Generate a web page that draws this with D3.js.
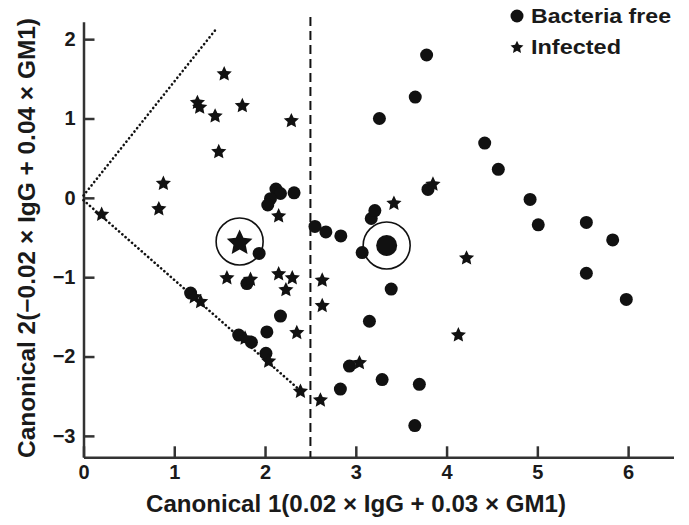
<!DOCTYPE html>
<html>
<head>
<meta charset="utf-8">
<script src="https://cdn.jsdelivr.net/npm/d3@7"></script>
<style>
  body { margin: 0; background: #fff; }
  svg text { font-family: "Liberation Sans", Arial, Helvetica, sans-serif; font-weight: bold; fill: #1a1a1a; }
</style>
</head>
<body>
<svg id="chart" width="689" height="525"></svg>
<script>
// Canonical discriminant scores
const bacteriaFree = [
  [2.12, 0.11], [2.17, 0.055], [2.32, 0.063], [2.06, -0.01], [2.03, -0.09],
  [1.935, -0.70], [1.80, -1.08], [1.18, -1.20],
  [1.71, -1.73], [1.85, -1.82], [2.02, -1.69], [2.17, -1.49], [2.01, -1.96],
  [2.55, -0.36], [2.67, -0.43], [2.835, -0.48], [3.07, -0.69], [3.17, -0.26], [3.21, -0.16],
  [3.39, -1.15], [3.795, 0.106],
  [3.15, -1.555], [2.93, -2.12], [3.29, -2.29], [3.70, -2.35], [2.83, -2.41], [3.65, -2.87],
  [3.78, 1.80], [3.655, 1.27], [3.26, 1.00], [4.42, 0.69], [4.57, 0.36],
  [4.92, -0.02], [5.01, -0.34], [5.54, -0.31], [5.83, -0.53], [5.54, -0.95], [5.98, -1.28]
];
const infected = [
  [1.55, 1.57], [1.255, 1.21], [1.28, 1.15], [1.45, 1.04], [1.75, 1.17], [2.29, 0.98],
  [1.49, 0.59], [0.88, 0.19], [0.83, -0.13], [0.20, -0.20], [2.15, -0.22],
  [1.58, -1.00], [1.84, -1.02], [2.15, -0.95], [2.30, -1.00], [2.23, -1.15],
  [2.63, -1.03], [2.63, -1.35],
  [1.22, -1.24], [1.29, -1.30], [1.78, -1.76], [2.35, -1.69], [2.04, -2.05],
  [2.39, -2.43], [2.61, -2.54],
  [3.42, -0.06], [3.85, 0.18], [4.22, -0.75], [4.13, -1.72], [3.04, -2.07]
];
// group centroids (big markers inside circles)
const centroidInfected = [1.72, -0.55];
const centroidFree = [3.34, -0.60];

// guide lines
const dottedUpper = [[0, 0.03], [1.47, 2.14]];
const dottedLower = [[0, -0.03], [2.39, -2.43]];
const cutoffX = 2.5;
const cutoffTop = 2.28;

const xTicks = [0, 1, 2, 3, 4, 5, 6];
const yTicks = [-3, -2, -1, 0, 1, 2];
const legendLabels = ['Bacteria free', 'Infected'];

const svg = d3.select('#chart');
const x = d3.scaleLinear().domain([0, 6.5]).range([83.5, 673.5]);
const y = d3.scaleLinear().domain([-3.27, 2.22]).range([457.3, 21.7]);
const ink = '#111';

// fatter five-point star than d3.symbolStar; "size" is the outer radius here
const fatStar = {
  draw(ctx, r) {
    const ri = r * 0.48;
    for (let i = 0; i < 10; i++) {
      const a = -Math.PI / 2 + i * Math.PI / 5;
      const rr = i % 2 ? ri : r;
      const px = rr * Math.cos(a), py = rr * Math.sin(a);
      if (i === 0) ctx.moveTo(px, py); else ctx.lineTo(px, py);
    }
    ctx.closePath();
  }
};
const starPath = r => d3.symbol().type(fatStar).size(r)();

// axes, ticks pointing inward
const xAxis = svg.append('g')
  .attr('transform', `translate(0,${y(-3.27)})`)
  .call(d3.axisBottom(x).tickValues(xTicks).tickFormat(d3.format('d'))
    .tickSizeInner(-11).tickSizeOuter(0).tickPadding(8));
const yAxis = svg.append('g')
  .attr('transform', `translate(${x(0)},0)`)
  .call(d3.axisLeft(y).tickValues(yTicks).tickFormat(d3.format('d'))
    .tickSizeInner(-11).tickSizeOuter(0).tickPadding(8));
[xAxis, yAxis].forEach(g => {
  g.select('.domain').attr('stroke', '#333').attr('stroke-width', 2.5);
  g.selectAll('.tick line').attr('stroke', '#333').attr('stroke-width', 2.5);
  g.selectAll('.tick text').attr('font-size', 20).attr('fill', '#1a1a1a')
    .attr('font-family', '"Liberation Sans", Arial, sans-serif').attr('font-weight', 'bold');
});

// dotted wedge lines
const line = d3.line().x(d => x(d[0])).y(d => y(d[1]));
[dottedUpper, dottedLower].forEach(seg => {
  svg.append('path')
    .attr('d', line(seg))
    .attr('fill', 'none')
    .attr('stroke', ink)
    .attr('stroke-width', 2.6)
    .attr('stroke-linecap', 'round')
    .attr('stroke-dasharray', '0.1,4.2');
});

// dashed cutoff
svg.append('line')
  .attr('x1', x(cutoffX)).attr('x2', x(cutoffX))
  .attr('y1', y(cutoffTop)).attr('y2', y(-3.27))
  .attr('stroke', ink)
  .attr('stroke-width', 2)
  .attr('stroke-dasharray', '9,5');

// points
svg.append('g').selectAll('circle')
  .data(bacteriaFree)
  .join('circle')
  .attr('cx', d => x(d[0]))
  .attr('cy', d => y(d[1]))
  .attr('r', 6.5)
  .attr('fill', ink);
svg.append('g').selectAll('path')
  .data(infected)
  .join('path')
  .attr('transform', d => `translate(${x(d[0])},${y(d[1]) + 0.8})`)
  .attr('d', starPath(8))
  .attr('fill', ink);

// centroids
[centroidInfected, centroidFree].forEach(c => {
  svg.append('circle')
    .attr('cx', x(c[0])).attr('cy', y(c[1]))
    .attr('r', 23.5)
    .attr('fill', 'none')
    .attr('stroke', ink)
    .attr('stroke-width', 1.6);
});
svg.append('path')
  .attr('transform', `translate(${x(centroidInfected[0])},${y(centroidInfected[1]) + 1.5})`)
  .attr('d', starPath(13.5))
  .attr('fill', ink);
svg.append('circle')
  .attr('cx', x(centroidFree[0])).attr('cy', y(centroidFree[1]))
  .attr('r', 10.5)
  .attr('fill', ink);

// legend
const legend = svg.append('g').attr('transform', 'translate(517,16)');
legend.append('circle').attr('cx', 0).attr('cy', 0).attr('r', 6.5).attr('fill', ink);
legend.append('path')
  .attr('transform', 'translate(0,31.5)')
  .attr('d', starPath(6.8))
  .attr('fill', ink);
legend.selectAll('text')
  .data(legendLabels)
  .join('text')
  .attr('x', 14)
  .attr('y', (d, i) => 6.5 + i * 31)
  .attr('font-size', 21)
  .attr('textLength', (d, i) => i === 0 ? 140 : 90)
  .attr('lengthAdjust', 'spacingAndGlyphs')
  .text(d => d);

// axis titles
svg.append('text')
  .attr('x', 356)
  .attr('y', 512)
  .attr('text-anchor', 'middle')
  .attr('font-size', 23)
  .attr('textLength', 420)
  .attr('lengthAdjust', 'spacingAndGlyphs')
  .text('Canonical 1(0.02 × IgG + 0.03 × GM1)');
svg.append('text')
  .attr('transform', 'translate(35,238) rotate(-90)')
  .attr('text-anchor', 'middle')
  .attr('font-size', 23)
  .attr('textLength', 440)
  .attr('lengthAdjust', 'spacingAndGlyphs')
  .text('Canonical 2(−0.02 × IgG + 0.04 × GM1)');
</script>
</body>
</html>
